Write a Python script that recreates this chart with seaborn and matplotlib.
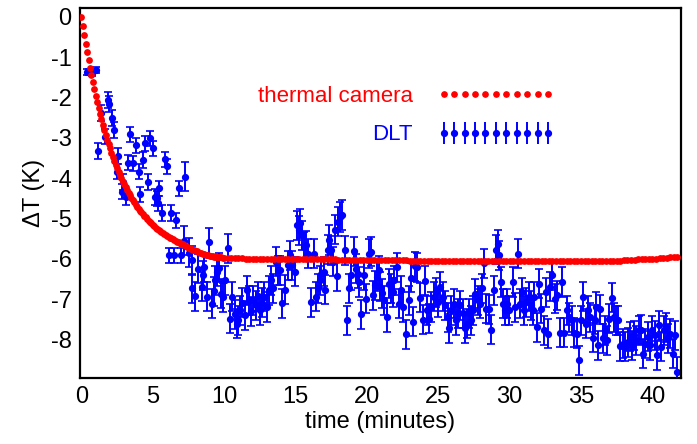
import numpy as np
import matplotlib
matplotlib.use("Agg")
import matplotlib.pyplot as plt
import seaborn as sns
from matplotlib.lines import Line2D

# thermal camera curve, 0.1 min steps up to 10 min
cam_t_early = np.arange(0, 10.0, 0.1)
cam_T_early = [
    0.00, -0.23, -0.45, -0.67, -0.87, -1.07, -1.26, -1.44, -1.62, -1.78,
    -1.95, -2.10, -2.25, -2.40, -2.54, -2.67, -2.80, -2.92, -3.04, -3.15,
    -3.26, -3.37, -3.47, -3.57, -3.66, -3.75, -3.84, -3.92, -4.00, -4.08,
    -4.15, -4.22, -4.29, -4.36, -4.42, -4.48, -4.54, -4.59, -4.65, -4.70,
    -4.75, -4.80, -4.84, -4.89, -4.93, -4.97, -5.01, -5.05, -5.09, -5.12,
    -5.16, -5.19, -5.22, -5.25, -5.28, -5.31, -5.33, -5.36, -5.38, -5.41,
    -5.43, -5.45, -5.47, -5.49, -5.51, -5.53, -5.55, -5.57, -5.58, -5.60,
    -5.62, -5.64, -5.66, -5.68, -5.70, -5.72, -5.73, -5.75, -5.77, -5.78,
    -5.80, -5.81, -5.83, -5.84, -5.86, -5.87, -5.88, -5.89, -5.90, -5.91,
    -5.92, -5.93, -5.93, -5.94, -5.94, -5.95, -5.95, -5.96, -5.96, -5.97,
]
# after 10 min, 0.25 min steps
cam_t_late = np.arange(10.0, 42.0, 0.25)
cam_T_late = [
    -5.97, -5.97, -5.98, -5.98, -5.98, -5.98, -5.99, -5.99,
    -5.99, -5.99, -5.99, -5.99, -6.00, -6.00, -6.00, -6.00,
    -6.00, -6.00, -6.00, -6.00, -6.01, -6.01, -6.01, -6.01,
    -6.01, -6.01, -6.01, -6.01, -6.01, -6.01, -6.01, -6.01,
    -6.02, -6.02, -6.02, -6.02, -6.02, -6.02, -6.02, -6.02,
    -6.03, -6.03, -6.03, -6.03, -6.03, -6.03, -6.03, -6.03,
    -6.03, -6.03, -6.03, -6.03, -6.04, -6.04, -6.04, -6.04,
    -6.04, -6.04, -6.04, -6.04, -6.05, -6.05, -6.05, -6.05,
    -6.05, -6.05, -6.05, -6.05, -6.05, -6.05, -6.05, -6.05,
    -6.05, -6.05, -6.05, -6.05, -6.06, -6.06, -6.06, -6.06,
    -6.06, -6.06, -6.06, -6.06, -6.06, -6.06, -6.06, -6.06,
    -6.06, -6.06, -6.06, -6.06, -6.06, -6.06, -6.06, -6.06,
    -6.06, -6.06, -6.06, -6.06, -6.06, -6.06, -6.06, -6.06,
    -6.05, -6.05, -6.05, -6.05, -6.04, -6.04, -6.04, -6.04,
    -6.03, -6.03, -6.02, -6.02, -6.01, -6.01, -6.00, -6.00,
    -5.99, -5.99, -5.98, -5.98, -5.97, -5.96, -5.95, -5.94,
]

# DLT measurements
dlt_t = [
    0.37, 0.54, 0.77, 1.00, 1.14, 1.35, 1.66, 1.84, 1.96, 2.12,
    2.31, 2.48, 2.55, 2.83, 2.94, 3.13, 3.29, 3.43, 3.64, 3.81,
    4.00, 4.11, 4.32, 4.46, 4.65, 4.79, 4.98, 5.16, 5.28, 5.35,
    5.44, 5.63, 5.82, 5.96, 6.10, 6.28, 6.47, 6.61, 6.80, 6.98,
    7.15, 7.27, 7.50, 7.73, 7.78, 7.94, 8.14, 8.43, 8.55, 8.62,
    8.80, 8.95, 9.13, 9.27, 9.37, 9.50, 9.64, 9.78, 9.91, 10.09,
    10.28, 10.43, 10.58, 10.74, 10.90, 11.00, 11.10, 11.26, 11.43, 11.58,
    11.72, 11.89, 12.05, 12.22, 12.34, 12.50, 12.64, 12.80, 12.97, 13.15,
    13.29, 13.45, 13.62, 13.76, 13.92, 14.06, 14.23, 14.46, 14.58, 14.74,
    14.93, 15.09, 15.26, 15.33, 15.44, 15.56, 15.72, 15.86, 16.09, 16.26,
    16.42, 16.56, 16.68, 16.80, 16.96, 17.07, 17.26, 17.36, 17.49, 17.61,
    17.78, 17.91, 17.96, 18.08, 18.24, 18.43, 18.59, 18.76, 18.89, 19.08,
    19.22, 19.36, 19.46, 19.60, 19.76, 19.92, 20.11, 20.27, 20.43, 20.57,
    20.74, 20.88, 20.95, 21.05, 21.23, 21.40, 21.56, 21.70, 21.86, 21.93,
    22.09, 22.26, 22.40, 22.56, 22.73, 22.92, 23.06, 23.22, 23.38, 23.52,
    23.71, 23.90, 24.04, 24.20, 24.36, 24.50, 24.67, 24.83, 24.97, 25.14,
    25.30, 25.48, 25.65, 25.77, 25.91, 26.07, 26.23, 26.37, 26.54, 26.70,
    26.84, 27.00, 27.17, 27.31, 27.42, 27.59, 27.75, 27.91, 28.05, 28.17,
    28.33, 28.52, 28.71, 28.87, 29.03, 29.17, 29.27, 29.38, 29.50, 29.64,
    29.80, 29.97, 30.20, 30.39, 30.57, 30.74, 30.85, 31.02, 31.16, 31.32,
    31.49, 31.63, 31.72, 31.90, 32.02, 32.19, 32.37, 32.54, 32.68, 32.84,
    33.00, 33.15, 33.31, 33.50, 33.66, 33.82, 34.01, 34.17, 34.36, 34.53,
    34.69, 34.85, 35.01, 35.15, 35.34, 35.48, 35.65, 35.81, 35.95, 36.04,
    36.18, 36.35, 36.51, 36.65, 36.81, 36.97, 37.16, 37.28, 37.44, 37.58,
    37.75, 37.91, 38.10, 38.26, 38.40, 38.56, 38.73, 38.87, 39.03, 39.17,
    39.33, 39.50, 39.66, 39.80, 39.97, 40.15, 40.32, 40.48, 40.62, 40.78,
    40.95, 41.09, 41.25, 41.41, 41.55, 41.72,
]
dlt_T = [
    -1.36, -1.36, -1.38, -1.32, -3.32, -2.38, -2.97, -2.06, -2.16, -2.51,
    -2.80, -3.84, -3.45, -4.33, -4.09, -4.46, -3.61, -2.91, -3.63, -3.18,
    -3.84, -4.40, -3.55, -3.13, -4.09, -3.01, -3.26, -4.46, -4.50, -4.62,
    -4.25, -4.86, -3.53, -3.70, -5.91, -4.86, -5.91, -5.04, -4.25, -5.91,
    -5.55, -3.96, -5.84, -6.03, -6.73, -6.92, -6.24, -6.69, -6.40, -6.21,
    -6.93, -5.58, -7.11, -6.80, -6.53, -6.32, -6.22, -6.86, -6.95, -6.53,
    -5.74, -7.48, -6.93, -7.37, -7.60, -7.52, -7.27, -7.08, -7.39, -6.77,
    -7.02, -7.29, -7.02, -7.15, -6.92, -7.27, -7.08, -6.94, -7.19, -6.77,
    -6.53, -6.73, -6.07, -6.28, -6.28, -7.10, -6.76, -6.15, -5.91, -6.15,
    -6.32, -5.16, -5.29, -5.12, -5.41, -5.70, -5.66, -5.87, -7.07, -5.87,
    -6.94, -6.73, -6.53, -6.36, -6.32, -6.76, -5.77, -5.53, -5.78, -6.07,
    -5.27, -6.43, -5.08, -4.96, -4.91, -5.78, -7.52, -6.72, -6.40, -5.81,
    -6.24, -6.36, -6.57, -7.37, -6.40, -6.98, -5.87, -5.82, -6.90, -6.65,
    -6.44, -6.28, -6.69, -6.85, -7.02, -7.44, -6.61, -6.73, -6.82, -6.53,
    -6.21, -7.11, -6.77, -7.19, -7.87, -7.02, -6.46, -7.56, -6.18, -6.21,
    -6.96, -7.50, -6.54, -7.27, -7.48, -7.19, -6.94, -6.82, -7.07, -6.69,
    -6.94, -7.15, -7.44, -7.72, -7.27, -7.11, -7.52, -7.35, -7.15, -7.35,
    -7.72, -7.60, -7.35, -7.52, -7.27, -6.86, -7.02, -7.11, -6.73, -6.11,
    -7.23, -7.25, -7.75, -6.77, -5.77, -5.63, -5.91, -6.57, -7.11, -7.27,
    -7.11, -7.27, -6.57, -7.20, -5.87, -7.11, -6.82, -7.27, -7.07, -6.94,
    -7.15, -7.27, -6.94, -7.69, -6.61, -7.23, -7.77, -6.82, -7.85, -6.69,
    -6.40, -6.98, -6.90, -7.83, -6.57, -7.83, -7.27, -7.44, -7.52, -7.83,
    -7.85, -8.51, -7.52, -6.94, -7.60, -7.27, -7.44, -7.95, -7.50, -7.19,
    -8.14, -7.25, -7.97, -7.77, -8.01, -7.48, -6.96, -7.44, -7.52, -7.52,
    -8.16, -8.10, -8.18, -8.06, -7.93, -8.14, -7.89, -8.01, -7.77, -7.75,
    -8.35, -8.10, -7.93, -8.14, -7.77, -7.89, -8.39, -7.64, -8.18, -7.77,
    -7.69, -7.97, -7.85, -8.35, -7.89, -8.80,
]
# error bar half-lengths: small at the start, larger later
err_start, err_mid, err_late = 0.08, 0.19, 0.36

sns.set_theme(style="white")
plt.rcParams["font.family"] = ["Liberation Sans", "DejaVu Sans"]
plt.rcParams["axes.unicode_minus"] = False
plt.rcParams["text.color"] = "black"
plt.rcParams["axes.labelcolor"] = "black"
plt.rcParams["xtick.color"] = "black"
plt.rcParams["ytick.color"] = "black"

cam_t = np.concatenate([cam_t_early, cam_t_late])
cam_T = np.concatenate([cam_T_early, cam_T_late])
dlt_t = np.array(dlt_t)
dlt_T = np.array(dlt_T)
dlt_err = np.where(dlt_t < 1.1, err_start, np.where(dlt_t < 7.1, err_mid, err_late))

fig = plt.figure(figsize=(6.97, 4.44), dpi=100)
ax = fig.add_axes([0.1148, 0.1486, 0.8622, 0.8334])

sns.scatterplot(x=cam_t, y=cam_T, color="#ff0000", s=24, linewidth=0, ax=ax, zorder=3)
ax.errorbar(dlt_t, dlt_T, yerr=dlt_err, fmt="o", color="#0000ff", ms=4.2,
            elinewidth=1.4, capsize=2.8, capthick=1.2, zorder=2)

ax.set_xlim(-0.1, 42.0)
ax.set_ylim(-8.95, 0.22)
ax.set_xticks(range(0, 45, 5))
ax.set_yticks(range(-8, 1))
ax.tick_params(axis="both", length=0, labelsize=17, pad=6, labelcolor="black")
for s in ax.spines.values():
    s.set_color("black")
    s.set_linewidth(1.6)
ax.set_xlabel("time (minutes)", fontsize=17, labelpad=2, color="black")
ax.set_ylabel("ΔT (K)", fontsize=17, labelpad=4, color="black")

# legend: text on the left, samples on the right
h_cam = Line2D([], [], ls="none", marker="o", color="#ff0000", ms=3.8)
h_dlt = ax.errorbar([], [], yerr=[], fmt="o", color="#0000ff", ms=4.2,
                    elinewidth=1.4, capsize=2.8, capthick=1.2)
leg = ax.legend([h_cam, h_dlt], ["thermal camera", "DLT"], loc="upper right",
                bbox_to_anchor=(0.79, 0.79), frameon=False, markerfirst=False,
                numpoints=11, handlelength=5.3, handletextpad=1.1,
                labelspacing=0.8, borderaxespad=0, borderpad=0, fontsize=16)
for txt, c in zip(leg.get_texts(), ["#ff0000", "#0000ff"]):
    txt.set_color(c)

fig.savefig("out.png", dpi=100)
